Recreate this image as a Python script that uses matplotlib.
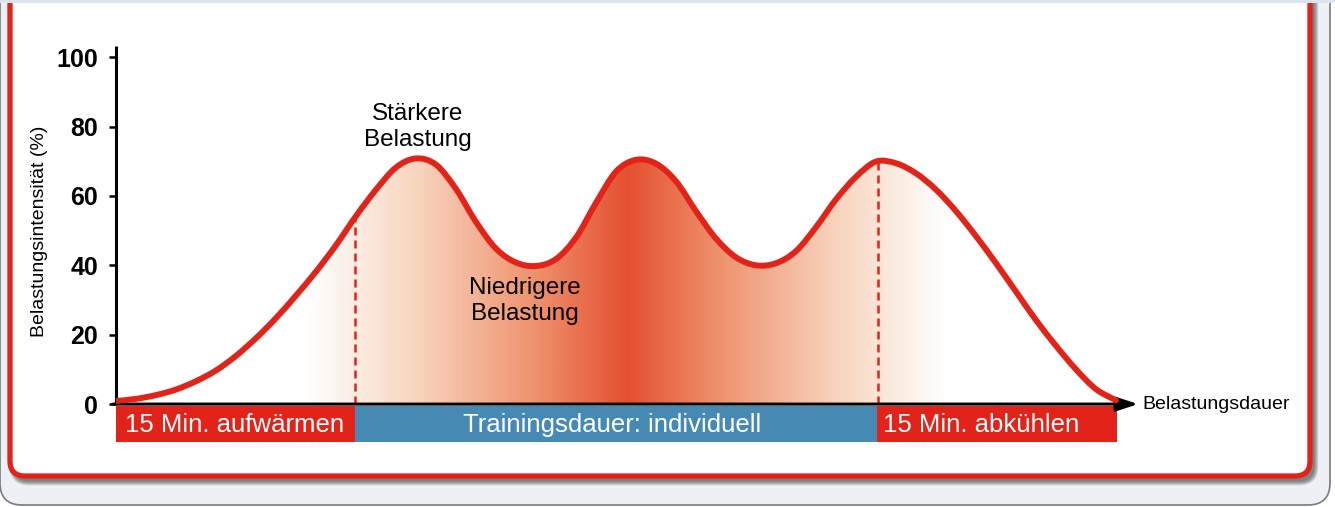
import numpy as np
import matplotlib
matplotlib.use("Agg")
import matplotlib.pyplot as plt
from matplotlib.patches import FancyBboxPatch, PathPatch, Rectangle
from matplotlib.path import Path
from matplotlib.colors import LinearSegmentedColormap

plt.rcParams['font.family'] = ['Liberation Sans', 'DejaVu Sans']

# load curve (x: duration units, y: intensity %)
curve_x = [0, 2, 4, 6, 8, 10, 12, 14, 16, 18, 20, 22, 24, 26, 28, 30, 32, 34, 36, 38,
           40, 42, 44, 46, 48, 50, 52, 54, 56, 58, 60, 62, 64, 66, 68, 70, 72, 74, 76,
           78, 80, 82, 84, 86, 88, 90, 92, 94, 96, 98, 100]
curve_y = [0.9, 1.5, 2.6, 4.2, 6.6, 9.7, 13.9, 19.0, 24.8, 31.3, 38.2, 45.8, 54.2,
           61.8, 68.2, 70.8, 69.0, 62.0, 52.5, 44.8, 40.8, 39.8, 41.8, 48.0, 58.0,
           67.0, 70.4, 69.3, 64.2, 55.6, 47.7, 42.3, 40.0, 40.6, 44.1, 51.0, 59.0,
           65.5, 69.9, 69.4, 66.5, 61.8, 55.6, 48.4, 40.6, 32.4, 24.2, 16.8, 10.0,
           4.3, 1.1]

split_x = [23.9, 76.2]
split_top = [53.8, 69.9]

phase_start = [-0.2, 23.9, 76.1]
phase_end = [23.9, 76.1, 100.1]
phase_labels = ["15 Min. aufwärmen", "Trainingsdauer: individuell", "15 Min. abkühlen"]
phase_label_x = [11.9, 49.6, 86.5]
phase_colors = ["#E2231A", "#468AB4", "#E2231A"]

yticks = [0, 20, 40, 60, 80, 100]

RED = "#E2231A"
W, H = 1335, 507


def smooth_path(xs, ys, close_to_axis=False):
    # Catmull-Rom through the read points, drawn as cubic Bezier segments
    p = np.column_stack([xs, ys]).astype(float)
    ext = np.vstack([p[0], p, p[-1]])
    verts = [p[0]]
    codes = [Path.MOVETO]
    for i in range(1, len(ext) - 2):
        p0, p1, p2, p3 = ext[i - 1], ext[i], ext[i + 1], ext[i + 2]
        verts += [p1 + (p2 - p0) / 6, p2 - (p3 - p1) / 6, p2]
        codes += [Path.CURVE4] * 3
    if close_to_axis:
        verts += [(xs[-1], 0), (xs[0], 0), p[0]]
        codes += [Path.LINETO, Path.LINETO, Path.CLOSEPOLY]
    return Path(verts, codes)


fig = plt.figure(figsize=(W / 100, H / 100), dpi=100)

# background: panel, shadow and rounded red frame (pixel coords)
bg = fig.add_axes([0, 0, 1, 1])
bg.set_xlim(0, W)
bg.set_ylim(H, 0)
bg.axis('off')
bg.add_patch(Rectangle((0, 0), W, H, color='white'))
bg.add_patch(FancyBboxPatch((0, -30), 1330, 535, boxstyle='round,pad=0,rounding_size=22',
                            fc='#EDF0F5', ec='#7A7A7A', lw=1.2))
for s in np.linspace(0, 9, 10):
    bg.add_patch(FancyBboxPatch((10 + 4 - s / 2, -20 + 5 - s / 2), 1300 + s, 496 + s,
                                boxstyle='round,pad=0,rounding_size=%d' % (15 + s / 2),
                                fc='#404040', ec='none', alpha=0.09))
bg.add_patch(FancyBboxPatch((10, -20), 1300, 496, boxstyle='round,pad=0,rounding_size=15',
                            fc='white', ec=RED, lw=3.8))
bg.add_patch(Rectangle((0, 0), W, 3, color='#DDE4EE', lw=0))

# main chart
ax = fig.add_axes([116 / W, (H - 444) / H, 1024 / W, 398 / H])
ax.patch.set_alpha(0)
for sp in ax.spines.values():
    sp.set_visible(False)

# gradient fill under curve
xs = np.linspace(0, 102.4, 1024)
t = np.clip(1 - np.abs(xs - 51.1) / 32.0, 0, 1)
cmap = LinearSegmentedColormap.from_list(
    'heat', [(0, '#FFFFFF'), (0.35, '#F8D3BC'), (0.7, '#EF9470'), (1, '#E4502F')])
grad = cmap(t)[np.newaxis, :, :]
clip = PathPatch(smooth_path(curve_x, curve_y, close_to_axis=True), fc='none', ec='none')
ax.add_patch(clip)
im = ax.imshow(grad, extent=[0, 102.4, 0, 80], aspect='auto', origin='lower',
               zorder=1, interpolation='bilinear')
im.set_clip_path(clip)

# dashed phase boundaries
for x, top in zip(split_x, split_top):
    ax.plot([x, x], [0, top], color=RED, lw=1.8, ls=(0, (3.2, 2)), zorder=2)

# axes lines
ax.plot([0, 0], [0, 103.2], color='black', lw=2.2, zorder=3, clip_on=False,
        solid_capstyle='butt')
ax.annotate('', xy=(102.2, 0), xytext=(-0.3, 0),
            arrowprops=dict(arrowstyle='-|>,head_length=13,head_width=4.3',
                            mutation_scale=1, color='black', lw=2.2,
                            shrinkA=0, shrinkB=0),
            annotation_clip=False, zorder=3)

ax.add_patch(PathPatch(smooth_path(curve_x, curve_y), fc='none', ec=RED, lw=4.3,
                       zorder=4, capstyle='round', joinstyle='round'))

# phase bars
for x0, x1, lx, lab, c in zip(phase_start, phase_end, phase_label_x, phase_labels,
                              phase_colors):
    ax.bar(x0, -10.4, width=x1 - x0, bottom=-0.6, align='edge', color=c, lw=0, zorder=2)
    ax.text(lx, -5.9, lab, color='white', fontsize=18.5, va='center', ha='center',
            zorder=5)

ax.text(30.2, 79.8, "Stärkere\nBelastung", fontsize=17.5, ha='center', va='center',
        multialignment='center')
ax.text(40.9, 29.7, "Niedrigere\nBelastung", fontsize=17.5, ha='center', va='center',
        multialignment='center')
ax.text(102.6, 0, "Belastungsdauer", fontsize=14, ha='left', va='center', clip_on=False)

ax.set_xlim(0, 102.4)
ax.set_ylim(-11.5, 103.2)
ax.set_xticks([])
ax.set_yticks(yticks)
ax.set_yticklabels([str(v) for v in yticks], fontweight='bold')
ax.tick_params(axis='y', length=5, width=1.8, pad=8, labelsize=18, direction='out')

fig.text(40 / W, 1 - 231 / H, "Belastungsintensität (%)", rotation=90, fontsize=14,
         ha='center', va='center')

fig.savefig('out.png', dpi=100)
